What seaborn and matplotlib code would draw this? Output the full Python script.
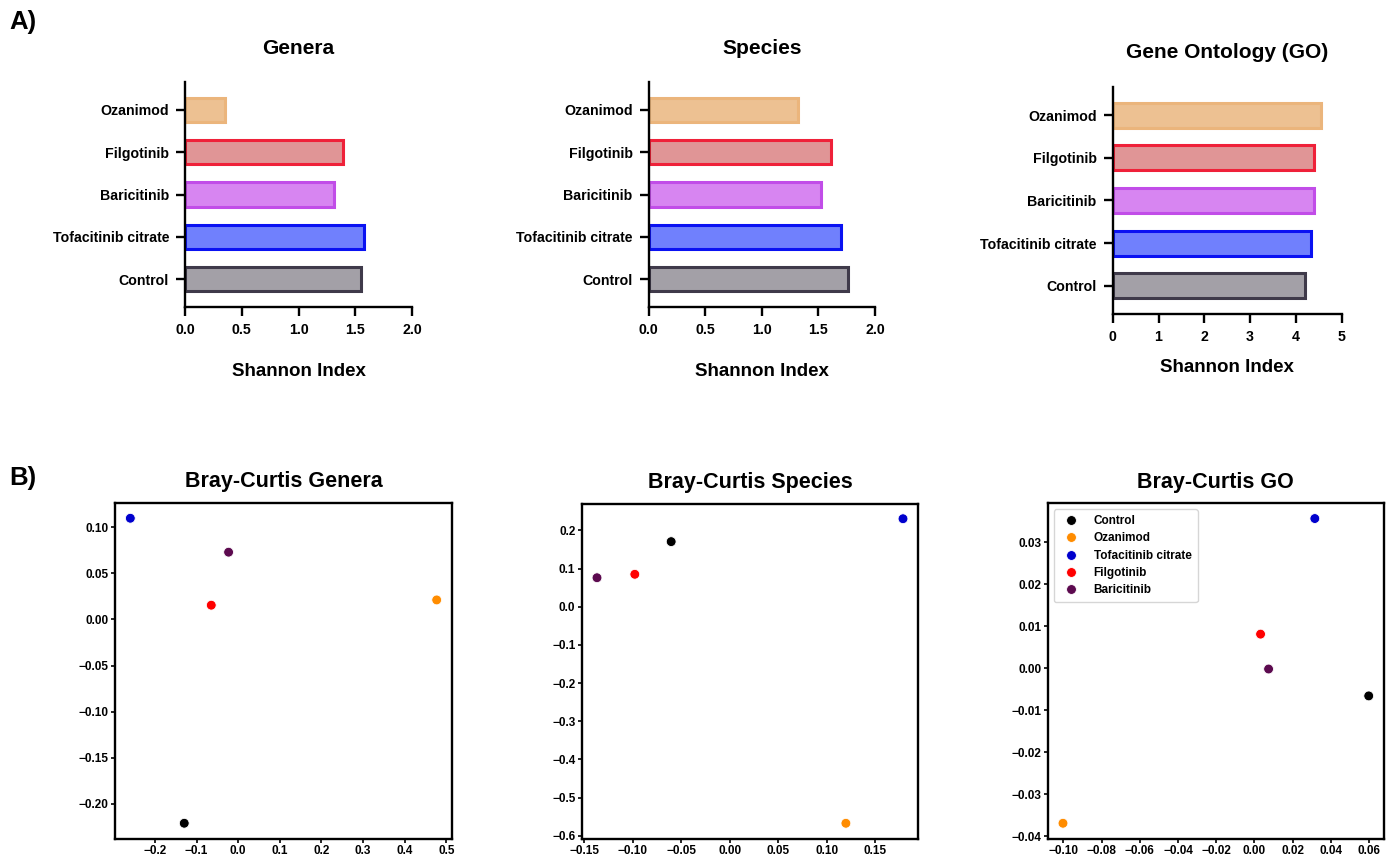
import matplotlib
matplotlib.use("Agg")
import matplotlib.pyplot as plt
import seaborn as sns
import pandas as pd

W, H = 1392, 858

# Alpha diversity (Shannon index) per treatment
drugs = ["Ozanimod", "Filgotinib", "Baricitinib", "Tofacitinib citrate", "Control"]
genera_shannon = [0.35, 1.39, 1.31, 1.58, 1.55]
species_shannon = [1.32, 1.61, 1.52, 1.70, 1.76]
go_shannon = [4.55, 4.40, 4.39, 4.34, 4.20]

bar_fill = {
    "Ozanimod": "#EDC192",
    "Filgotinib": "#E09596",
    "Baricitinib": "#D785F1",
    "Tofacitinib citrate": "#7080FD",
    "Control": "#A3A0A7",
}
bar_edge = {
    "Ozanimod": "#EBB57C",
    "Filgotinib": "#EF2139",
    "Baricitinib": "#C14DE8",
    "Tofacitinib citrate": "#0A12F2",
    "Control": "#3F3A4A",
}

# Beta diversity (Bray-Curtis ordination coordinates)
groups = ["Control", "Ozanimod", "Tofacitinib citrate", "Filgotinib", "Baricitinib"]
genera_pc1 = [-0.1295, 0.4767, -0.259, -0.0646, -0.023]
genera_pc2 = [-0.221, 0.0212, 0.1098, 0.0155, 0.073]
species_pc1 = [-0.0605, 0.1197, 0.1786, -0.098, -0.137]
species_pc2 = [0.1705, -0.567, 0.2305, 0.085, 0.076]
go_pc1 = [0.0598, -0.1002, 0.0316, 0.0032, 0.0074]
go_pc2 = [-0.0066, -0.0369, 0.0356, 0.0081, -0.0002]

point_colors = {
    "Control": "black",
    "Ozanimod": "darkorange",
    "Tofacitinib citrate": "mediumblue",
    "Filgotinib": "red",
    "Baricitinib": "#5C0A4F",
}

sns.set_style("ticks")
plt.rcParams["font.family"] = ["Liberation Sans", "DejaVu Sans"]
plt.rcParams["font.weight"] = "bold"
plt.rcParams["axes.labelweight"] = "bold"
plt.rcParams["axes.titleweight"] = "bold"
for key in ("text.color", "axes.labelcolor", "xtick.color", "ytick.color"):
    plt.rcParams[key] = "black"

fig = plt.figure(figsize=(W / 100, H / 100), dpi=100)


def px_axes(x0, y0, x1, y1):
    return fig.add_axes([x0 / W, 1 - y1 / H, (x1 - x0) / W, (y1 - y0) / H])


def ftext(x, y, s, **kw):
    fig.text(x / W, 1 - y / H, s, color="black", **kw)


def bar_panel(rect, values, title, xmax, ticks, ticklabels, title_y, xlabel_y):
    ax = px_axes(*rect)
    df = pd.DataFrame({"drug": drugs, "shannon": values})
    sns.barplot(data=df, x="shannon", y="drug", hue="drug", order=drugs,
                hue_order=drugs, palette=bar_fill, saturation=1, width=0.58,
                legend=False, ax=ax)
    for patch in ax.patches:
        yc = patch.get_y() + patch.get_height() / 2
        name = drugs[int(round(yc))]
        patch.set_edgecolor(bar_edge[name])
        patch.set_linewidth(2.2)
    ax.set_xlim(0, xmax)
    ax.set_ylim(4.66, -0.66)
    ax.set_xticks(ticks)
    ax.set_xticklabels(ticklabels)
    ax.set_xlabel("")
    ax.set_ylabel("")
    sns.despine(ax=ax)
    for side in ("left", "bottom"):
        ax.spines[side].set_linewidth(1.7)
        ax.spines[side].set_color("black")
    ax.tick_params(axis="both", length=6.5, width=1.7, colors="black",
                   labelsize=10.2, pad=5)
    cx = (rect[0] + rect[2]) / 2
    ftext(cx, title_y, title, ha="center", va="center", fontsize=15,
          fontweight="bold")
    ftext(cx, xlabel_y, "Shannon Index", ha="center", va="center",
          fontsize=13.5, fontweight="bold")
    return ax


def scatter_panel(rect, xs, ys, title, show_legend=False):
    ax = px_axes(*rect)
    df = pd.DataFrame({"group": groups, "x": xs, "y": ys})
    sns.scatterplot(data=df, x="x", y="y", hue="group", hue_order=groups,
                    palette=point_colors, s=50, edgecolor="white",
                    linewidth=0.6, legend=show_legend, ax=ax)
    ax.set_xlabel("")
    ax.set_ylabel("")
    for sp in ax.spines.values():
        sp.set_linewidth(1.7)
        sp.set_color("black")
    ax.tick_params(axis="both", length=3, width=1.2, colors="black",
                   labelsize=8.5, pad=1.5)
    cx = (rect[0] + rect[2]) / 2
    ftext(cx, rect[1] - 21, title, ha="center", va="center", fontsize=15.5,
          fontweight="bold")
    if show_legend:
        leg = ax.legend(loc="upper left", fontsize=8.5, frameon=True,
                        handletextpad=0.9, borderpad=0.5, labelspacing=0.45,
                        markerscale=1.0)
        leg.get_frame().set_edgecolor("#cccccc")
        for t in leg.get_texts():
            t.set_color("black")
    return ax


bar_panel((185, 82, 412, 307), genera_shannon, "Genera", 2.0,
          [0, 0.5, 1.0, 1.5, 2.0], ["0.0", "0.5", "1.0", "1.5", "2.0"], 48, 372)
bar_panel((648.7, 82, 875, 307), species_shannon, "Species", 2.0,
          [0, 0.5, 1.0, 1.5, 2.0], ["0.0", "0.5", "1.0", "1.5", "2.0"], 48, 372)
bar_panel((1112.7, 87, 1341.7, 314), go_shannon, "Gene Ontology (GO)", 5,
          [0, 1, 2, 3, 4, 5], ["0", "1", "2", "3", "4", "5"], 53, 367)

scatter_panel((115, 503, 452, 838.5), genera_pc1, genera_pc2,
              "Bray-Curtis Genera")
scatter_panel((581.7, 503.5, 918.3, 838.5), species_pc1, species_pc2,
              "Bray-Curtis Species")
scatter_panel((1047.7, 503.3, 1384, 838.5), go_pc1, go_pc2, "Bray-Curtis GO",
              show_legend=True)

ftext(9, 22, "A)", ha="left", va="center", fontsize=18.5, fontweight="bold")
ftext(9, 478, "B)", ha="left", va="center", fontsize=18.5, fontweight="bold")

fig.savefig("out.png", dpi=100)
